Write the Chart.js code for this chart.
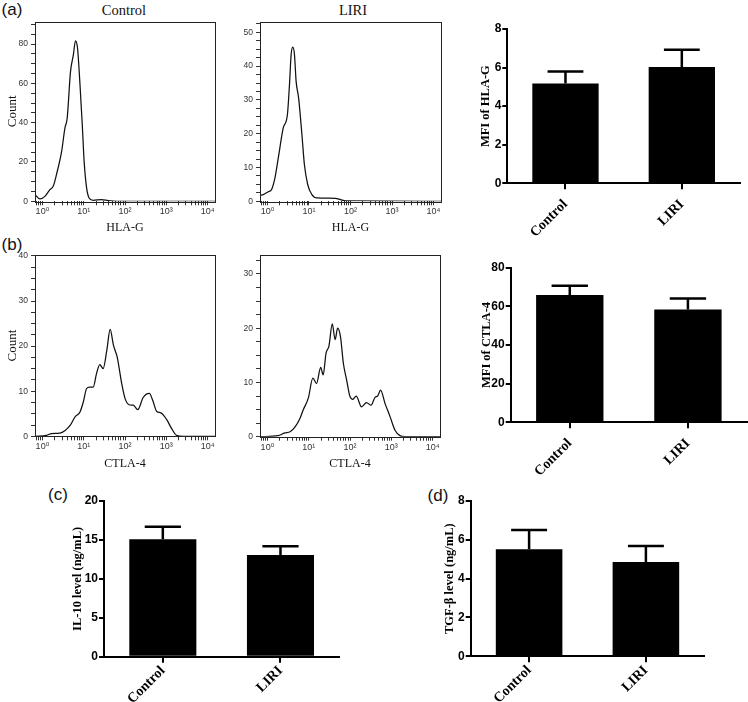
<!DOCTYPE html>
<html>
<head>
<meta charset="utf-8">
<script src="https://cdn.jsdelivr.net/npm/chart.js@4.4.1/dist/chart.umd.min.js"></script>
<style>
  body { margin: 0; background: #fff; }
  #fig { position: relative; width: 748px; height: 702px; overflow: hidden; background: #fff; }
  #fig canvas { position: absolute; }
  .lab { position: absolute; transform: translate(-50%, -50%); white-space: nowrap; color: #111; }
  .panel { font-family: "Liberation Sans", Arial, sans-serif; font-size: 17px; }
  .ttl { font-family: "Liberation Serif", "Times New Roman", serif; font-size: 14.5px; }
</style>
</head>
<body>
<div id="fig">
  <div class="lab panel" style="left:12px;top:10px">(a)</div>
  <div class="lab panel" style="left:12px;top:245px">(b)</div>
  <div class="lab panel" style="left:58px;top:495px">(c)</div>
  <div class="lab panel" style="left:438px;top:496px">(d)</div>
  <div class="lab ttl" style="left:124px;top:10px">Control</div>
  <div class="lab ttl" style="left:353px;top:10px">LIRI</div>
  <canvas id="hlaCtrl"></canvas>
  <canvas id="hlaLiri"></canvas>
  <canvas id="ctlaCtrl"></canvas>
  <canvas id="ctlaLiri"></canvas>
  <canvas id="mfiHla"></canvas>
  <canvas id="mfiCtla"></canvas>
  <canvas id="il10"></canvas>
  <canvas id="tgfb"></canvas>
</div>
<script>
// histogram data: x = log10 fluorescence (decades), y = count
var hlaCtrlX = [-0.18, -0.06, 0.06, 0.18, 0.26, 0.34, 0.465, 0.545, 0.60, 0.68, 0.75, 0.80, 0.85, 0.91, 0.965, 1.01, 1.07, 1.13, 1.23, 1.43, 1.6, 1.8, 4.18];
var hlaCtrlY = [3.4, 1.2, 2.5, 5.9, 7.6, 13.6, 25.4, 37.3, 42.4, 66, 74.6, 81.7, 78, 59.3, 39, 20.3, 6.8, 1.7, 0.5, 0.85, 0.3, 0, 0];

var hlaLiriX = [-0.18, -0.10, 0.02, 0.10, 0.18, 0.26, 0.38, 0.48, 0.53, 0.57, 0.61, 0.65, 0.69, 0.75, 0.83, 0.89, 0.97, 1.07, 1.19, 1.64, 1.76, 1.88, 4.18];
var hlaLiriY = [1.8, 2.0, 2.8, 3.5, 6.9, 12.8, 21.7, 25.6, 34.5, 43.4, 45.6, 43.4, 35.5, 30.6, 19.7, 10.8, 4.9, 2.0, 1.0, 0.9, 0.5, 0.1, 0];

var ctlaCtrlX = [-0.18, 0.10, 0.22, 0.42, 0.55, 0.67, 0.79, 0.91, 0.99, 1.07, 1.14, 1.23, 1.31, 1.39, 1.47, 1.56, 1.64, 1.72, 1.81, 1.92, 2.0, 2.10, 2.20, 2.31, 2.44, 2.59, 2.67, 2.77, 2.87, 3.01, 3.13, 3.25, 3.41, 4.18];
var ctlaCtrlY = [0, 0.2, 0.6, 0.7, 1.3, 2.4, 4.3, 5.4, 7.6, 10.6, 10.9, 10.9, 13.9, 15.9, 15.0, 19.1, 23.7, 20.2, 17.6, 11.7, 8.4, 7.0, 6.9, 5.9, 8.6, 9.5, 8.0, 5.5, 5.2, 3.7, 1.7, 0.2, 0, 0];

var ctlaLiriX = [-0.18, 0.26, 0.42, 0.55, 0.67, 0.79, 0.87, 0.99, 1.10, 1.19, 1.29, 1.35, 1.42, 1.49, 1.57, 1.64, 1.70, 1.77, 1.84, 1.92, 2.0, 2.07, 2.15, 2.28, 2.40, 2.51, 2.61, 2.67, 2.74, 2.85, 2.97, 3.09, 3.21, 3.33, 4.18];
var ctlaLiriY = [0, 0.2, 0.7, 0.9, 1.8, 3.4, 5.0, 7.1, 10.8, 9.8, 12.8, 11.4, 15.4, 16.7, 20.8, 17.9, 20.0, 18.4, 13.5, 10.4, 7.4, 6.9, 7.5, 5.5, 6.3, 5.8, 7.3, 7.5, 8.6, 6.1, 3.7, 1.2, 0.2, 0, 0];

// bar data: mean and upper error (SD)
var groups = ["Control", "LIRI"];
var mfiHlaVal = [5.18, 6.03];
var mfiHlaErr = [0.62, 0.9];
var mfiCtlaVal = [65.9, 58.4];
var mfiCtlaErr = [4.8, 5.7];
var il10Val = [15.1, 13.05];
var il10Err = [1.6, 1.15];
var tgfbVal = [5.51, 4.86];
var tgfbErr = [1.0, 0.82];

var SANS = "'Liberation Sans', 'DejaVu Sans', Arial, sans-serif";
var SERIF = "'Liberation Serif', 'Times New Roman', serif";
var sup = ["\u2070", "\u00b9", "\u00b2", "\u00b3", "\u2074"];

var frame = {
	id: 'frame',
	afterDraw: function(chart) {
		var a = chart.chartArea, c = chart.ctx;
		c.save();
		c.strokeStyle = '#222';
		c.lineWidth = 1;
		c.strokeRect(Math.round(a.left) + 0.5, Math.round(a.top) + 0.5, Math.round(a.right - a.left), Math.round(a.bottom - a.top));
		c.restore();
	}
};

var errBars = {
	id: 'errBars',
	afterDatasetsDraw: function(chart) {
		var c = chart.ctx, ys = chart.scales.y;
		var ds = chart.data.datasets[0];
		var meta = chart.getDatasetMeta(0);
		c.save();
		c.strokeStyle = '#000';
		c.lineWidth = 2.5;
		meta.data.forEach(function(bar, i) {
			var top = ys.getPixelForValue(ds.data[i] + ds.err[i]);
			var half = bar.width * 0.27;
			c.beginPath();
			c.moveTo(bar.x, bar.y);
			c.lineTo(bar.x, top);
			c.moveTo(bar.x - half, top);
			c.lineTo(bar.x + half, top);
			c.stroke();
		});
		c.restore();
	}
};

function place(id, cv) {
	var el = document.getElementById(id);
	el.width = cv.W;
	el.height = cv.H;
	el.style.left = cv.L + 'px';
	el.style.top = cv.T + 'px';
	el.style.width = cv.W + 'px';
	el.style.height = cv.H + 'px';
	return el;
}

// box = plot area in page pixels, cv = canvas rect
function hist(id, box, cv, xs, ys, o) {
	var el = place(id, cv);
	var pts = xs.map(function(x, i) { return { x: x, y: ys[i] }; });
	var xMin = -0.18, xMax = 4.18;
	var xTicks = [];
	for (var d = -1; d < 4; d++) {
		for (var k = 1; k < 10; k++) {
			var v = d + Math.log10(k);
			if (v >= xMin && v <= xMax) xTicks.push(v);
		}
	}
	xTicks.push(4);
	var yTicks = [];
	for (var t = 0; t <= o.yMax; t += o.major / 4) yTicks.push(t);

	new Chart(el, {
		type: 'line',
		data: { datasets: [{ data: pts, borderColor: '#111', borderWidth: 1.25, pointRadius: 0, fill: false, cubicInterpolationMode: 'monotone' }] },
		options: {
			responsive: false,
			animation: false,
			layout: { padding: { left: 0, top: box.t - cv.T, right: cv.L + cv.W - box.r, bottom: 0 } },
			plugins: { legend: { display: false }, tooltip: { enabled: false } },
			scales: {
				x: {
					type: 'linear', min: xMin, max: xMax,
					afterBuildTicks: function(s) { s.ticks = xTicks.map(function(v) { return { value: v }; }); },
					afterFit: function(s) { s.height = cv.T + cv.H - box.b; },
					ticks: {
						autoSkip: false, maxRotation: 0, minRotation: 0, padding: 1, color: '#333',
						font: { family: SANS, size: 9 },
						callback: function(v) { return Math.abs(v - Math.round(v)) < 1e-9 ? '10' + sup[Math.round(v)] : ''; }
					},
					grid: { drawOnChartArea: false, tickLength: 4, color: '#333', lineWidth: 1 },
					border: { display: false },
					title: { display: true, text: o.xTitle, color: '#111', font: { family: SERIF, size: 12, lineHeight: 1.2 }, padding: { top: 0, bottom: cv.T + cv.H - o.xtc - 7.2 } }
				},
				y: {
					min: 0, max: o.yMax,
					afterBuildTicks: function(s) { s.ticks = yTicks.map(function(v) { return { value: v }; }); },
					afterFit: function(s) { s.width = box.l - cv.L; },
					ticks: {
						autoSkip: false, padding: 3, color: '#333',
						font: { family: SANS, size: 8.5 },
						callback: function(v) { return Math.abs(v / o.major - Math.round(v / o.major)) < 1e-9 ? v : ''; }
					},
					grid: { drawOnChartArea: false, tickLength: 4, color: '#333', lineWidth: 1 },
					border: { display: false },
					title: { display: !!o.yTitle, text: o.yTitle, color: '#111', font: { family: SERIF, size: 13, lineHeight: 1.2 }, padding: { top: 4.5, bottom: 0 } }
				}
			}
		},
		plugins: [frame]
	});
}

// box: l = y axis x, t = top tick y, r = x axis end, b = zero line y
function bars(id, box, cv, vals, errs, o) {
	var el = place(id, cv);
	new Chart(el, {
		type: 'bar',
		data: { labels: groups, datasets: [{ data: vals, err: errs, backgroundColor: '#000', borderWidth: 0, barPercentage: 0.57, categoryPercentage: 1 }] },
		options: {
			responsive: false,
			animation: false,
			layout: { padding: { left: 0, top: box.t - cv.T, right: cv.L + cv.W - box.r, bottom: 0 } },
			plugins: { legend: { display: false }, tooltip: { enabled: false } },
			scales: {
				x: {
					afterFit: function(s) { s.height = cv.T + cv.H - box.b; },
					grid: { offset: false, drawOnChartArea: false, tickLength: 6, color: '#000', lineWidth: 2 },
					border: { display: true, color: '#000', width: 2 },
					ticks: { maxRotation: 45, minRotation: 45, padding: o.lp, color: '#000', font: { family: SERIF, size: 14, weight: 'bold' } }
				},
				y: {
					min: 0, max: o.max,
					afterFit: function(s) { s.width = box.l - cv.L; },
					ticks: { stepSize: o.step, padding: 1, color: '#000', font: { family: SANS, size: 12, weight: 'bold' } },
					grid: { drawOnChartArea: false, tickLength: 5, color: '#000', lineWidth: 2 },
					border: { display: true, color: '#000', width: 2 },
					title: { display: true, text: o.yTitle, color: '#000', font: { family: SERIF, size: 12.5, weight: 'bold', lineHeight: 1.2 }, padding: { top: o.ytc - cv.L - 7.5, bottom: 0 } }
				}
			}
		},
		plugins: [errBars]
	});
}

hist('hlaCtrl', { l: 35, t: 21.5, r: 215, b: 201.3 }, { L: 0, T: 0, W: 228, H: 240 }, hlaCtrlX, hlaCtrlY, { yMax: 91.5, major: 20, yTitle: 'Count', xTitle: 'HLA-G', xtc: 228 });
hist('hlaLiri', { l: 260, t: 21.5, r: 441, b: 201.3 }, { L: 225, T: 0, W: 228, H: 240 }, hlaLiriX, hlaLiriY, { yMax: 53.2, major: 10, yTitle: null, xTitle: 'HLA-G', xtc: 228 });
hist('ctlaCtrl', { l: 35, t: 255, r: 215, b: 436.3 }, { L: 0, T: 234, W: 228, H: 240 }, ctlaCtrlX, ctlaCtrlY, { yMax: 40.2, major: 10, yTitle: 'Count', xTitle: 'CTLA-4', xtc: 464 });
hist('ctlaLiri', { l: 260, t: 255, r: 440, b: 436.7 }, { L: 225, T: 234, W: 228, H: 240 }, ctlaLiriX, ctlaLiriY, { yMax: 33.5, major: 10, yTitle: null, xTitle: 'CTLA-4', xtc: 464 });

bars('mfiHla', { l: 507.3, t: 29, r: 740, b: 183.3 }, { L: 470, T: 0, W: 278, H: 240 }, mfiHlaVal, mfiHlaErr, { max: 8, step: 2, yTitle: 'MFI of HLA-G', ytc: 486, lp: 7 });
bars('mfiCtla', { l: 510.7, t: 267.7, r: 747, b: 422.3 }, { L: 470, T: 240, W: 278, H: 250 }, mfiCtlaVal, mfiCtlaErr, { max: 80, step: 20, yTitle: 'MFI of CTLA-4', ytc: 487, lp: 7 });
bars('il10', { l: 104, t: 501, r: 339.3, b: 656.7 }, { L: 60, T: 480, W: 290, H: 222 }, il10Val, il10Err, { max: 20, step: 5, yTitle: 'IL-10 level (ng/mL)', ytc: 78, lp: 0 });
bars('tgfb', { l: 470.7, t: 501, r: 704.3, b: 656.3 }, { L: 430, T: 480, W: 290, H: 222 }, tgfbVal, tgfbErr, { max: 8, step: 2, yTitle: 'TGF-\u03b2 level (ng/mL)', ytc: 450, lp: 0 });
</script>
</body>
</html>
